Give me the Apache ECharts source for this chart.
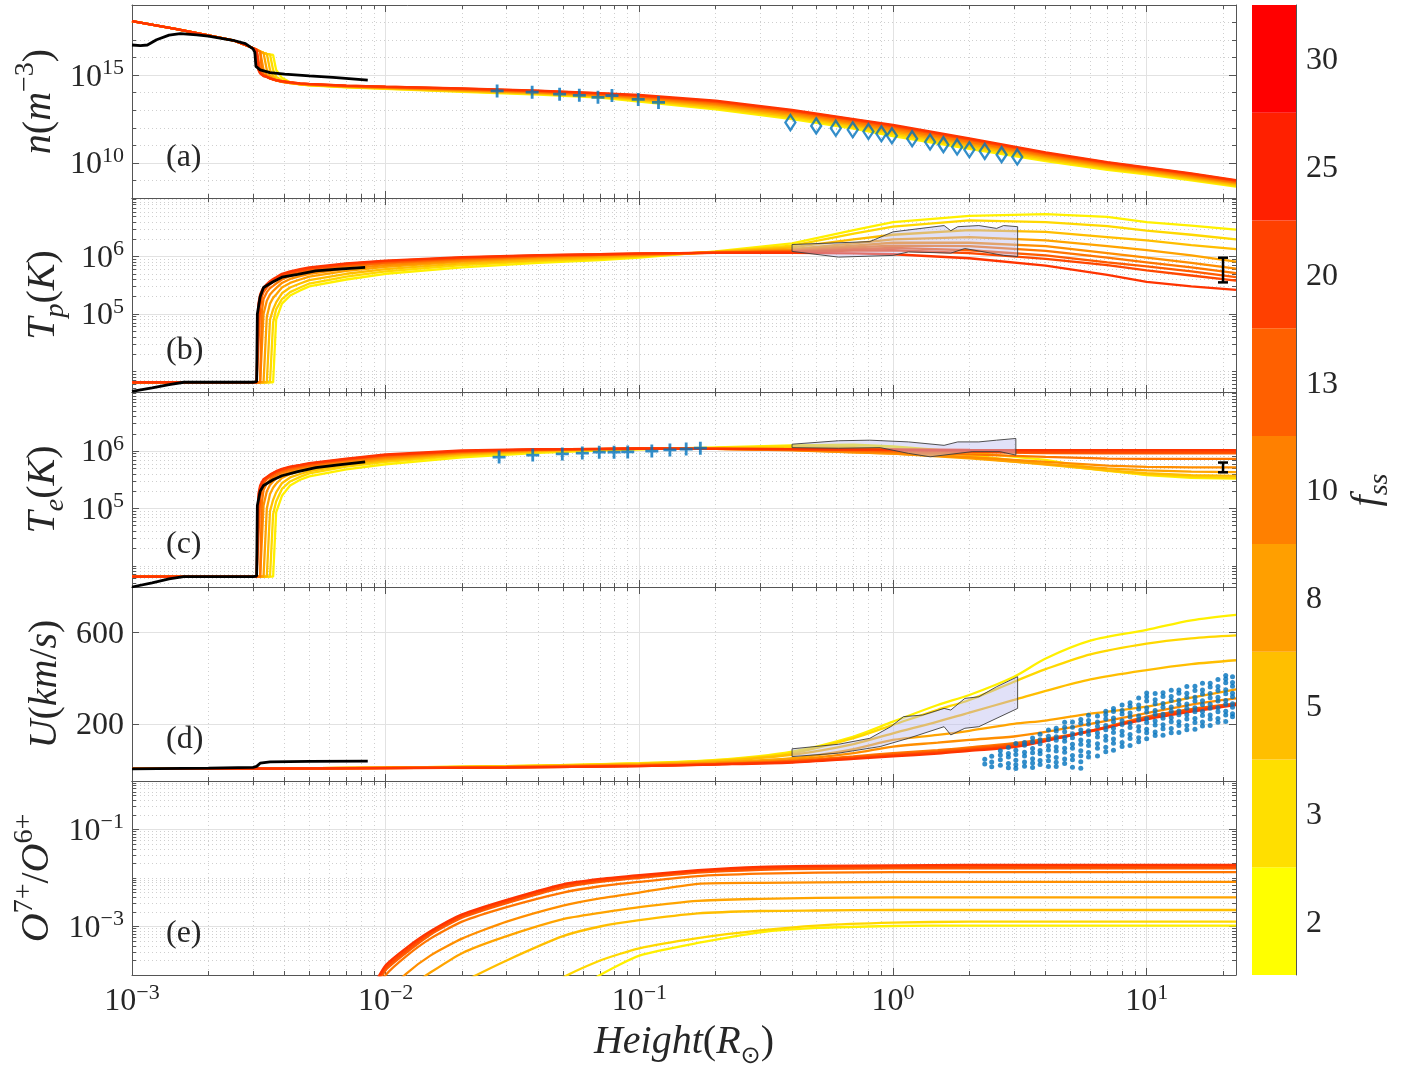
<!DOCTYPE html>
<html><head><meta charset="utf-8">
<script src="https://cdn.jsdelivr.net/npm/echarts@6/dist/echarts.min.js"></script>
<style>html,body{margin:0;padding:0;background:#fff}#c{width:1418px;height:1065px}</style>
</head><body><div id="c"></div>
<script>
// ---------------- DATA ----------------
const F_SS = [2, 3, 5, 8, 10, 13, 20, 25, 30];
const LINE_COLORS = ['#FFF000', '#FFD800', '#FFBE00', '#FFA400', '#FF8E00', '#FF7600', '#FF5C00', '#FF4800', '#FF3400'];
const BAR_COLORS = ['#FFFF00', '#FFDF00', '#FFBF00', '#FF9F00', '#FF8000', '#FF6000', '#FF4000', '#FF2000', '#FF0000'];

// heights (R_sun) for panels a-c
const H = [0.001, 0.0015, 0.002, 0.0025, 0.003, 0.0031, 0.00315, 0.0032, 0.00325, 0.0033, 0.0034, 0.0035, 0.0036, 0.0037, 0.0039, 0.0042, 0.0046, 0.005, 0.007, 0.01, 0.02, 0.04, 0.07, 0.1, 0.2, 0.4, 0.7, 1, 2, 4, 7, 10, 15, 22.5];

// log10 n (m^-3), rows in F_SS order
const LOG_N = [
  [18.08,17.62,17.27,16.99,16.55,16.45,16.40,16.35,16.30,16.27,16.22,16.18,16.15,15.30,14.85,14.60,14.48,14.42,14.30,14.22,14.05,13.90,13.72,13.50,13.05,12.50,11.95,11.52,10.80,10.10,9.60,9.35,9.00,8.65],
  [18.08,17.62,17.27,16.99,16.55,16.45,16.40,16.35,16.30,16.27,16.22,16.18,15.30,14.92,14.70,14.57,14.47,14.43,14.32,14.24,14.08,13.93,13.76,13.56,13.13,12.58,12.03,11.62,10.89,10.18,9.67,9.41,9.06,8.71],
  [18.08,17.62,17.27,16.99,16.55,16.45,16.40,16.35,16.30,16.27,16.22,15.30,14.95,14.78,14.64,14.55,14.48,14.44,14.33,14.26,14.11,13.96,13.80,13.61,13.20,12.66,12.12,11.72,10.98,10.25,9.74,9.47,9.12,8.76],
  [18.08,17.62,17.27,16.99,16.55,16.45,16.40,16.35,16.30,16.27,15.30,14.98,14.82,14.72,14.62,14.55,14.49,14.46,14.35,14.28,14.14,13.99,13.83,13.67,13.28,12.74,12.20,11.81,11.07,10.33,9.80,9.53,9.18,8.83],
  [18.08,17.62,17.27,16.99,16.55,16.45,16.40,16.35,16.30,15.30,15.00,14.86,14.77,14.70,14.62,14.56,14.50,14.47,14.36,14.29,14.17,14.02,13.87,13.71,13.34,12.81,12.27,11.90,11.15,10.39,9.86,9.58,9.23,8.87],
  [18.08,17.62,17.27,16.99,16.55,16.45,16.40,16.35,15.30,15.05,14.93,14.83,14.76,14.70,14.63,14.57,14.51,14.48,14.38,14.31,14.19,14.05,13.90,13.76,13.40,12.88,12.34,11.98,11.22,10.45,9.92,9.63,9.28,8.91],
  [18.08,17.62,17.27,16.99,16.55,16.45,16.40,15.30,15.08,14.98,14.90,14.82,14.76,14.70,14.64,14.58,14.52,14.49,14.39,14.33,14.22,14.09,13.94,13.81,13.47,12.95,12.42,12.07,11.31,10.52,9.98,9.69,9.34,8.97],
  [18.08,17.62,17.27,16.99,16.55,16.45,15.35,15.12,15.02,14.96,14.90,14.82,14.76,14.71,14.65,14.59,14.53,14.49,14.40,14.34,14.23,14.10,13.96,13.84,13.51,12.98,12.46,12.12,11.35,10.56,10.01,9.72,9.37,8.99],
  [18.08,17.62,17.27,16.99,16.55,16.45,15.30,15.10,15.00,14.95,14.90,14.82,14.76,14.72,14.66,14.60,14.53,14.50,14.41,14.35,14.25,14.12,13.98,13.87,13.55,13.02,12.50,12.17,11.40,10.60,10.05,9.75,9.40,9.02]
];

// log10 Tp (K)
const LOG_TP = [
  [3.81,3.81,3.81,3.81,3.81,3.81,3.81,3.81,3.81,3.81,3.81,3.81,3.81,4.90,5.18,5.32,5.41,5.48,5.60,5.70,5.81,5.89,5.94,5.98,6.09,6.23,6.46,6.60,6.71,6.74,6.69,6.60,6.54,6.47],
  [3.81,3.81,3.81,3.81,3.81,3.81,3.81,3.81,3.81,3.81,3.81,3.81,4.85,5.08,5.26,5.38,5.46,5.53,5.65,5.74,5.85,5.92,5.96,6.00,6.08,6.19,6.40,6.52,6.63,6.60,6.53,6.45,6.38,6.30],
  [3.81,3.81,3.81,3.81,3.81,3.81,3.81,3.81,3.81,3.81,3.81,4.90,5.08,5.20,5.36,5.46,5.53,5.59,5.70,5.78,5.88,5.94,5.98,6.01,6.08,6.16,6.30,6.38,6.46,6.43,6.34,6.28,6.20,6.13],
  [3.81,3.81,3.81,3.81,3.81,3.81,3.81,3.81,3.81,3.81,4.95,5.18,5.28,5.34,5.46,5.54,5.60,5.65,5.75,5.82,5.91,5.97,6.00,6.02,6.08,6.13,6.23,6.30,6.34,6.28,6.18,6.11,6.02,5.91],
  [3.81,3.81,3.81,3.81,3.81,3.81,3.81,3.81,3.81,5.00,5.23,5.34,5.40,5.45,5.54,5.61,5.66,5.70,5.79,5.85,5.93,5.99,6.02,6.03,6.07,6.11,6.19,6.24,6.24,6.18,6.06,5.98,5.89,5.79],
  [3.81,3.81,3.81,3.81,3.81,3.81,3.81,3.81,5.04,5.26,5.38,5.45,5.49,5.53,5.60,5.66,5.71,5.74,5.83,5.88,5.95,6.00,6.03,6.04,6.07,6.10,6.16,6.19,6.18,6.10,5.98,5.90,5.81,5.71],
  [3.81,3.81,3.81,3.81,3.81,3.81,3.81,5.11,5.30,5.38,5.46,5.52,5.56,5.59,5.65,5.70,5.74,5.77,5.85,5.90,5.97,6.01,6.03,6.05,6.07,6.09,6.13,6.15,6.11,6.02,5.90,5.83,5.74,5.64],
  [3.81,3.81,3.81,3.81,3.81,3.81,5.08,5.30,5.38,5.43,5.49,5.54,5.59,5.62,5.68,5.72,5.76,5.79,5.87,5.92,5.98,6.02,6.04,6.05,6.065,6.08,6.105,6.11,6.06,5.96,5.85,5.76,5.67,5.58],
  [3.81,3.81,3.81,3.81,3.81,3.81,5.18,5.34,5.41,5.46,5.52,5.57,5.61,5.64,5.70,5.74,5.78,5.81,5.88,5.93,5.99,6.025,6.04,6.055,6.065,6.065,6.055,6.04,5.97,5.84,5.68,5.56,5.48,5.42]
];

// log10 Te (K)
const LOG_TE = [
  [3.81,3.81,3.81,3.81,3.81,3.81,3.81,3.81,3.81,3.81,3.81,3.81,3.81,4.93,5.22,5.40,5.50,5.56,5.68,5.77,5.89,5.97,6.01,6.03,6.065,6.10,6.11,6.08,5.978,5.845,5.663,5.58,5.531,5.519],
  [3.81,3.81,3.81,3.81,3.81,3.81,3.81,3.81,3.81,3.81,3.81,3.81,4.90,5.12,5.34,5.47,5.55,5.61,5.73,5.81,5.92,5.99,6.02,6.035,6.055,6.08,6.07,6.04,5.929,5.778,5.653,5.591,5.556,5.531],
  [3.81,3.81,3.81,3.81,3.81,3.81,3.81,3.81,3.81,3.81,3.81,4.95,5.15,5.28,5.44,5.54,5.60,5.65,5.76,5.84,5.94,6.00,6.03,6.04,6.05,6.041,6.0,5.978,5.892,5.763,5.663,5.613,5.58,5.568],
  [3.81,3.81,3.81,3.81,3.81,3.81,3.81,3.81,3.81,3.81,5.00,5.25,5.36,5.43,5.53,5.60,5.65,5.69,5.79,5.86,5.96,6.01,6.035,6.04,6.04,6.021,5.978,5.954,5.875,5.771,5.699,5.663,5.643,5.633],
  [3.81,3.81,3.81,3.81,3.81,3.81,3.81,3.81,3.81,5.05,5.30,5.41,5.47,5.52,5.59,5.64,5.68,5.72,5.81,5.88,5.97,6.02,6.035,6.04,6.04,6.013,5.978,5.954,5.892,5.813,5.748,5.724,5.716,5.716],
  [3.81,3.81,3.81,3.81,3.81,3.81,3.81,3.81,5.10,5.32,5.44,5.50,5.54,5.57,5.63,5.67,5.71,5.74,5.83,5.90,5.98,6.02,6.035,6.04,6.04,6.02,6.0,5.982,5.944,5.898,5.869,5.863,5.863,5.863],
  [3.81,3.81,3.81,3.81,3.81,3.81,3.81,5.18,5.36,5.44,5.51,5.55,5.58,5.61,5.66,5.70,5.73,5.76,5.85,5.92,5.99,6.03,6.04,6.045,6.04,6.033,6.017,6.009,5.982,5.964,5.959,5.959,5.959,5.959],
  [3.81,3.81,3.81,3.81,3.81,3.81,5.15,5.36,5.44,5.49,5.54,5.58,5.61,5.64,5.68,5.72,5.75,5.78,5.86,5.93,6.00,6.03,6.04,6.045,6.04,6.033,6.025,6.017,6.0,5.987,5.982,5.982,5.982,5.982],
  [3.81,3.81,3.81,3.81,3.81,3.81,5.25,5.40,5.46,5.51,5.55,5.59,5.62,5.65,5.69,5.73,5.76,5.79,5.87,5.94,6.01,6.035,6.04,6.045,6.04,6.035,6.03,6.03,6.02,6.017,6.017,6.017,6.017,6.017]
];

// U (km/s)
const H_U = [0.001, 0.003, 0.01, 0.03, 0.1, 0.2, 0.4, 0.7, 1, 1.5, 2, 3, 4, 6, 10, 15, 22.5];
const U_KMS = [
  [3, 5, 9, 15, 28, 42, 79, 145, 210, 283, 327, 407, 487, 565, 612, 654, 678],
  [3, 5, 9, 15, 27, 40, 72, 138, 196, 262, 305, 385, 440, 505, 552, 575, 588],
  [3, 5, 8, 14, 25, 37, 65, 112, 159, 210, 250, 305, 345, 395, 436, 462, 479],
  [3, 5, 8, 13, 22, 32, 50, 90, 130, 152, 170, 200, 215, 245, 276, 315, 351],
  [3, 5, 8, 12, 20, 28, 43, 72, 101, 118, 130, 145, 165, 200, 247, 285, 312],
  [3, 4, 7, 11, 17, 25, 38, 58, 72, 85, 97, 116, 135, 170, 232, 265, 290],
  [3, 4, 7, 10, 16, 24, 36, 54, 66, 79, 91, 110, 130, 168, 229, 263, 288],
  [3, 4, 6, 10, 15, 23, 33, 50, 62, 74, 86, 104, 127, 167, 225, 260, 286],
  [3, 4, 6, 9, 15, 22, 31, 47, 58, 70, 82, 98, 125, 170, 220, 254, 283]
];

// log10 O7+/O6+
const H_O = [0.009, 0.01, 0.012, 0.015, 0.02, 0.03, 0.05, 0.07, 0.1, 0.17, 0.3, 0.5, 1, 2, 5, 10, 22.5];
const LOG_O76 = [
  [-7, -7, -7, -6.5, -6, -5.3, -4.5, -4.0, -3.6, -3.34, -3.12, -3.03, -2.99, -2.98, -2.98, -2.98, -2.98],
  [-7, -7, -6.5, -6, -5.5, -4.8, -4.05, -3.7, -3.45, -3.24, -3.08, -2.98, -2.92, -2.90, -2.90, -2.90, -2.90],
  [-5.5, -5.2, -4.9, -4.5, -4.15, -3.7, -3.2, -3.0, -2.87, -2.73, -2.68, -2.67, -2.66, -2.66, -2.66, -2.66, -2.66],
  [-5, -4.6, -4.3, -3.95, -3.55, -3.2, -2.85, -2.72, -2.6, -2.47, -2.43, -2.41, -2.40, -2.40, -2.40, -2.40, -2.40],
  [-4.8, -4.4, -3.98, -3.6, -3.25, -2.9, -2.57, -2.42, -2.3, -2.12, -2.1, -2.09, -2.08, -2.08, -2.08, -2.08, -2.08],
  [-4.4, -4.0, -3.62, -3.25, -2.9, -2.6, -2.3, -2.17, -2.08, -1.96, -1.91, -1.89, -1.88, -1.88, -1.88, -1.88, -1.88],
  [-4.3, -3.9, -3.55, -3.17, -2.82, -2.52, -2.2, -2.08, -2.0, -1.89, -1.83, -1.81, -1.80, -1.80, -1.80, -1.80, -1.80],
  [-4.25, -3.85, -3.5, -3.13, -2.78, -2.48, -2.16, -2.05, -1.97, -1.86, -1.80, -1.78, -1.77, -1.77, -1.77, -1.77, -1.77],
  [-4.2, -3.8, -3.45, -3.1, -2.75, -2.45, -2.13, -2.02, -1.94, -1.84, -1.77, -1.75, -1.74, -1.73, -1.73, -1.73, -1.73]
];

// observations (black curves)
const OBS_H_N = [0.001, 0.00108, 0.00115, 0.00125, 0.0014, 0.00155, 0.0018, 0.002, 0.0025, 0.0028, 0.003, 0.00305, 0.00308, 0.0032, 0.0035, 0.004, 0.005, 0.0062, 0.0085];
const OBS_LOG_N = [16.72, 16.68, 16.72, 17.02, 17.28, 17.37, 17.30, 17.22, 16.99, 16.80, 16.50, 16.30, 15.50, 15.30, 15.15, 15.06, 14.96, 14.87, 14.72];
const OBS_H_T = [0.001, 0.0012, 0.0014, 0.0016, 0.002, 0.0025, 0.003, 0.0031, 0.00312, 0.0032, 0.0033, 0.0036, 0.0039, 0.0045, 0.0053, 0.0065, 0.0083];
const OBS_LOG_TP = [3.65, 3.71, 3.77, 3.81, 3.81, 3.81, 3.81, 3.82, 5.00, 5.30, 5.46, 5.56, 5.64, 5.69, 5.75, 5.78, 5.81];
const OBS_LOG_TE = [3.63, 3.70, 3.77, 3.81, 3.81, 3.81, 3.81, 3.82, 5.05, 5.30, 5.40, 5.50, 5.57, 5.64, 5.71, 5.76, 5.81];
const OBS_H_U = [0.001, 0.002, 0.003, 0.0031, 0.0032, 0.0035, 0.005, 0.0085];
const OBS_U = [3, 6, 10, 14, 28, 34, 36, 37];

// markers
const CROSS_H_N = [0.0275, 0.0378, 0.0485, 0.058, 0.0687, 0.078, 0.099, 0.119];
const CROSS_LOG_N = [14.10, 14.03, 13.92, 13.85, 13.74, 13.84, 13.62, 13.45];
const DIAM_H = [0.394, 0.498, 0.595, 0.694, 0.80, 0.90, 0.99, 1.19, 1.40, 1.58, 1.79, 2.0, 2.3, 2.68, 3.09];
const DIAM_LOG_N = [12.30, 12.11, 11.98, 11.89, 11.79, 11.66, 11.55, 11.38, 11.19, 11.04, 10.91, 10.75, 10.66, 10.47, 10.34];
const CROSS_H_TE = [0.028, 0.038, 0.0497, 0.0596, 0.0695, 0.0795, 0.090, 0.112, 0.132, 0.153, 0.174];
const CROSS_LOG_TE = [5.895, 5.93, 5.95, 5.965, 5.98, 5.98, 5.985, 6.0, 6.02, 6.035, 6.05];

// error bars: [height, low, high]
const ERR_TP = [20, 5.55, 5.98];
const ERR_TE = [20, 5.63, 5.80];

// shaded observation ranges [height, value]
const POLY_TP = [[0.40,6.21],[0.81,6.26],[1.0,6.43],[1.59,6.54],[1.69,6.45],[1.80,6.52],[2.18,6.54],[2.56,6.49],[2.73,6.54],[3.1,6.52],[3.1,6.0],[2.73,6.02],[1.92,6.14],[1.69,6.06],[1.15,6.08],[1.0,6.02],[0.61,5.99],[0.40,6.09]];
const POLY_TE = [[0.4,6.12],[0.61,6.18],[0.81,6.19],[1.15,6.16],[1.59,6.10],[1.8,6.16],[2.18,6.16],[2.56,6.19],[3.05,6.22],[3.05,5.93],[2.64,5.99],[2.05,5.99],[1.4,5.90],[1.15,5.96],[0.89,6.06],[0.61,6.05],[0.4,6.06]];
const POLY_U = [[0.4,91],[0.61,111],[0.81,137],[0.98,188],[1.1,232],[1.31,239],[1.59,268],[1.69,261],[1.92,312],[2.18,319],[2.56,363],[3.1,407],[3.1,268],[2.18,188],[1.92,181],[1.69,152],[1.59,188],[1.15,137],[0.89,101],[0.61,72],[0.4,57]];

// solar wind speed samples (columns of heights, speeds per column)
const WIND_H = [2.3, 2.45, 2.65, 2.85, 3.05, 3.3, 3.55, 3.8, 4.1, 4.4, 4.75, 5.1, 5.5, 5.9, 6.4, 6.9, 7.4, 8.0, 8.6, 9.3, 10.0, 10.8, 11.6, 12.5, 13.4, 14.4, 15.5, 16.6, 17.8, 19.1, 20.5, 21.8];
const WIND_U = [
  [24, 45], [12, 33, 58], [19, 43, 64, 83], [8, 27, 55, 71, 97], [5, 21, 41, 66, 85, 114],
  [15, 33, 60, 76, 107, 119], [9, 29, 47, 74, 92, 121, 138], [22, 40, 69, 84, 113, 131, 155],
  [14, 39, 58, 86, 104, 131, 146, 173], [13, 32, 53, 81, 99, 128, 144, 169, 181],
  [27, 46, 76, 93, 124, 139, 166, 185, 207], [10, 43, 62, 93, 111, 140, 157, 185, 208],
  [6, 34, 61, 82, 111, 130, 158, 174, 203, 219], [55, 75, 105, 124, 154, 170, 199, 215, 238],
  [60, 94, 113, 143, 160, 190, 208, 235], [78, 98, 129, 146, 175, 193, 222, 240, 256],
  [85, 115, 134, 163, 181, 210, 226, 255, 268], [101, 119, 150, 168, 198, 214, 244, 259, 283],
  [105, 136, 154, 184, 202, 231, 248, 277, 293], [122, 140, 169, 188, 217, 235, 265, 283, 314],
  [135, 161, 177, 206, 223, 252, 270, 300, 319, 336], [149, 165, 195, 213, 242, 259, 288, 306, 333],
  [150, 179, 196, 225, 243, 273, 290, 320, 337], [161, 180, 210, 227, 256, 274, 303, 320, 348],
  [163, 193, 210, 240, 257, 286, 304, 334, 349], [175, 193, 222, 240, 269, 287, 317, 334, 364],
  [177, 206, 224, 253, 271, 300, 317, 347, 365], [191, 208, 237, 255, 284, 302, 331, 349, 378],
  [193, 222, 239, 269, 286, 315, 333, 362, 378], [207, 224, 253, 271, 300, 317, 347, 364, 395],
  [211, 239, 256, 286, 303, 332, 350, 380, 397, 412], [231, 245, 273, 289, 319, 335, 365, 382, 407]
];

// axis ranges / ticks (exponents for log panels)
const X_RANGE = [0.001, 22.5];
const X_TICK_EXP = [-3, -2, -1, 0, 1];
const Y_RANGE = [[8, 19], [3.64, 7.02], [3.63, 7.03], [-50, 800], [-4, 0]];
const Y_TICKS = [[10, 15], [5, 6], [5, 6], [200, 600], [-3, -1]];
const PANEL_LABELS = ['(a)', '(b)', '(c)', '(d)', '(e)'];

// ---------------- CHART ----------------
const L10 = Math.log10;
const FONT = "'Liberation Serif', 'DejaVu Serif', serif";
const TXT = '#262626';
const AX = '#555555';
const GRID_TOP = [5, 198, 392, 587, 781];
const GRID_H = [193, 194, 195, 194, 194];
const X_MIN = L10(X_RANGE[0]), X_MAX = L10(X_RANGE[1]);
const NX = 4, NY = 4; // axes per panel

function minorLog(lo, hi, majors) {
  const out = [];
  for (let n = Math.floor(lo); n <= Math.ceil(hi); n++) {
    for (let k = 1; k <= 9; k++) {
      const v = n + L10(k);
      if (v > lo + 1e-6 && v < hi - 1e-6 && !majors.some(m => Math.abs(m - v) < 1e-6)) out.push(v);
    }
  }
  return out;
}
const X_MINOR = minorLog(X_MIN, X_MAX, X_TICK_EXP);
const Y_MINOR = [
  [8, 9, 11, 12, 13, 14, 16, 17, 18],
  minorLog(Y_RANGE[1][0], Y_RANGE[1][1], Y_TICKS[1]),
  minorLog(Y_RANGE[2][0], Y_RANGE[2][1], Y_TICKS[2]),
  [],
  minorLog(Y_RANGE[4][0], Y_RANGE[4][1], Y_TICKS[4])
];

const RICH_TICK = {
  b: { fontFamily: FONT, fontSize: 32, lineHeight: 36, verticalAlign: 'bottom', color: TXT },
  s: { fontFamily: FONT, fontSize: 22, lineHeight: 18, verticalAlign: 'top', color: TXT }
};
const RICH_NAME = {
  i: { fontFamily: FONT, fontStyle: 'italic', fontSize: 40, lineHeight: 54, color: TXT },
  r: { fontFamily: FONT, fontSize: 40, lineHeight: 54, color: TXT },
  sup: { fontFamily: FONT, fontSize: 28, lineHeight: 26, verticalAlign: 'top', color: TXT },
  sub: { fontFamily: FONT, fontStyle: 'italic', fontSize: 28, lineHeight: 32, verticalAlign: 'bottom', color: TXT },
  odot: { fontFamily: "'DejaVu Sans', sans-serif", fontSize: 24, lineHeight: 30, verticalAlign: 'bottom', color: TXT }
};
const expLabel = v => { const n = Math.round(v); return '{b|10}{s|' + (n < 0 ? '\u2212' + (-n) : n) + '}'; };
const plainLabel = v => '{b|' + v + '}';

const Y_NAMES = [
  '{i|n}{r|(}{i|m}{sup|\u22123}{r|)}',
  '{i|T}{sub|p}{r|(}{i|K}{r|)}',
  '{i|T}{sub|e}{r|(}{i|K}{r|)}',
  '{i|U}{r|(}{i|km}{r|/}{i|s}{r|)}',
  '{i|O}{sup|7+}{r|/}{i|O}{sup|6+}'
];
const Y_NAME_GAP = [62, 54, 54, 52, 54];

const tick = (len, vals) => ({ show: true, inside: true, length: len, customValues: vals, lineStyle: { color: AX } });
const boxLine = { show: true, onZero: false, lineStyle: { color: AX, width: 1 } };

const grids = [], xAxes = [], yAxes = [], series = [];
for (let p = 0; p < 5; p++) {
  grids.push({ left: 132, right: 182, top: GRID_TOP[p], height: GRID_H[p], containLabel: false, outerBoundsMode: 'none' });
  const xb = { type: 'value', gridIndex: p, min: X_MIN, max: X_MAX, silent: true,
    axisLine: { show: false, onZero: false }, axisLabel: { show: false }, splitLine: { show: false }, axisTick: { show: false } };
  xAxes.push(Object.assign({}, xb, { position: 'bottom', axisLine: boxLine, axisTick: tick(4, X_MINOR),
    splitLine: { show: true, lineStyle: { color: '#cfcfcf', type: [1, 3], width: 1 } } }));
  xAxes.push(Object.assign({}, xb, { position: 'top', axisLine: boxLine, axisTick: tick(7, X_TICK_EXP),
    splitLine: { show: true, lineStyle: { color: '#e2e2e2', width: 1 } } }));
  xAxes.push(Object.assign({}, xb, { position: 'bottom', axisTick: tick(7, X_TICK_EXP),
    axisLabel: p === 4 ? { show: true, customValues: X_TICK_EXP, formatter: expLabel, margin: 7, rich: RICH_TICK } : { show: false },
    name: p === 4 ? '{i|Height}{r|(}{i|R}{odot|\u2299}{r|)}' : '', nameLocation: 'middle', nameGap: 40,
    nameTextStyle: { rich: RICH_NAME } }));
  xAxes.push(Object.assign({}, xb, { position: 'top', axisTick: tick(4, X_MINOR) }));

  const isLog = p !== 3;
  const yb = { type: 'value', gridIndex: p, min: Y_RANGE[p][0], max: Y_RANGE[p][1], silent: true,
    axisLine: { show: false, onZero: false }, axisLabel: { show: false }, splitLine: { show: false }, axisTick: { show: false } };
  yAxes.push(Object.assign({}, yb, { position: 'left', axisLine: boxLine, axisTick: tick(7, Y_TICKS[p]),
    axisLabel: { show: true, customValues: Y_TICKS[p], formatter: isLog ? expLabel : plainLabel, margin: 8, rich: RICH_TICK },
    splitLine: { show: true, lineStyle: { color: '#e2e2e2', width: 1 } },
    name: Y_NAMES[p], nameLocation: 'middle', nameRotate: 90, nameGap: Y_NAME_GAP[p], nameTextStyle: { rich: RICH_NAME } }));
  yAxes.push(Object.assign({}, yb, { position: 'right', axisLine: boxLine, axisTick: tick(7, Y_TICKS[p]) }));
  if (Y_MINOR[p].length) {
    yAxes.push(Object.assign({}, yb, { position: 'right', axisTick: tick(4, Y_MINOR[p]),
      splitLine: { show: true, lineStyle: { color: '#cfcfcf', type: [1, 3], width: 1 } } }));
    yAxes.push(Object.assign({}, yb, { position: 'left', axisTick: tick(4, Y_MINOR[p]) }));
  } else {
    yAxes.push(Object.assign({}, yb, { position: 'right' }));
    yAxes.push(Object.assign({}, yb, { position: 'left' }));
  }
}

const ax = p => ({ xAxisIndex: NX * p, yAxisIndex: NY * p });
const toPairs = (xs, ys) => xs.map((x, i) => [L10(x), ys[i]]);

const MODEL = [
  { p: 0, h: H, rows: LOG_N },
  { p: 1, h: H, rows: LOG_TP },
  { p: 2, h: H, rows: LOG_TE },
  { p: 3, h: H_U, rows: U_KMS, smooth: 0.3 },
  { p: 4, h: H_O, rows: LOG_O76, smooth: 0.2 }
];
MODEL.forEach(m => {
  m.rows.forEach((row, i) => {
    series.push(Object.assign({ type: 'line', data: toPairs(m.h, row), showSymbol: false, symbol: 'none',
      smooth: m.smooth || false, clip: true, silent: true, z: 2,
      lineStyle: { color: LINE_COLORS[i], width: 2.3 }, itemStyle: { color: LINE_COLORS[i] } }, ax(m.p)));
  });
});

[[0, OBS_H_N, OBS_LOG_N], [1, OBS_H_T, OBS_LOG_TP], [2, OBS_H_T, OBS_LOG_TE], [3, OBS_H_U, OBS_U]].forEach(([p, hs, vs]) => {
  series.push(Object.assign({ type: 'line', data: toPairs(hs, vs), showSymbol: false, symbol: 'none', clip: true, silent: true, z: 3,
    lineStyle: { color: '#000', width: 2.8 }, itemStyle: { color: '#000' } }, ax(p)));
});

function polySeries(p, poly) {
  return Object.assign({ type: 'custom', silent: true, z: 4, data: [[L10(poly[0][0]), poly[0][1]]],
    renderItem: (params, api) => ({ type: 'polygon',
      shape: { points: poly.map(q => api.coord([L10(q[0]), q[1]])) },
      style: { fill: 'rgba(188,188,240,0.45)', stroke: '#3c3c3c', lineWidth: 0.9 } }) }, ax(p));
}
series.push(polySeries(1, POLY_TP), polySeries(2, POLY_TE), polySeries(3, POLY_U));

function errSeries(p, e) {
  return Object.assign({ type: 'custom', silent: true, z: 5, data: [[L10(e[0]), e[1], e[2]]],
    encode: { x: 0, y: [1, 2] },
    renderItem: (params, api) => {
      const a = api.coord([api.value(0), api.value(1)]), b = api.coord([api.value(0), api.value(2)]);
      const st = { stroke: '#000', lineWidth: 2.5 };
      return { type: 'group', children: [
        { type: 'line', shape: { x1: a[0], y1: a[1], x2: b[0], y2: b[1] }, style: st },
        { type: 'line', shape: { x1: a[0] - 5, y1: a[1], x2: a[0] + 5, y2: a[1] }, style: st },
        { type: 'line', shape: { x1: b[0] - 5, y1: b[1], x2: b[0] + 5, y2: b[1] }, style: st }
      ] };
    } }, ax(p));
}
series.push(errSeries(1, ERR_TP), errSeries(2, ERR_TE));

const PLUS = 'path://M0,5L10,5M5,0L5,10';
const BLUE = '#0072BD';
series.push(Object.assign({ type: 'scatter', data: toPairs(CROSS_H_N, CROSS_LOG_N), symbol: PLUS, symbolSize: 13, silent: true, z: 6,
  itemStyle: { color: 'rgba(0,0,0,0)', borderColor: BLUE, borderWidth: 2.8 } }, ax(0)));
series.push(Object.assign({ type: 'scatter', data: toPairs(DIAM_H, DIAM_LOG_N), symbol: 'diamond', symbolSize: [10, 15], silent: true, z: 6,
  itemStyle: { color: 'rgba(0,0,0,0)', borderColor: BLUE, borderWidth: 2.4 } }, ax(0)));
series.push(Object.assign({ type: 'scatter', data: toPairs(CROSS_H_TE, CROSS_LOG_TE), symbol: PLUS, symbolSize: 13, silent: true, z: 6,
  itemStyle: { color: 'rgba(0,0,0,0)', borderColor: BLUE, borderWidth: 2.8 } }, ax(2)));
const windPts = [];
WIND_H.forEach((h, i) => WIND_U[i].forEach(u => windPts.push([L10(h), u])));
series.push(Object.assign({ type: 'scatter', data: windPts, symbol: 'circle', symbolSize: 5, silent: true, z: 6, clip: true,
  itemStyle: { color: BLUE } }, ax(3)));

// colorbar
grids.push({ left: 1252, width: 44, top: 5, height: 970, containLabel: false, outerBoundsMode: 'none' });
xAxes.push({ type: 'value', gridIndex: 5, min: 0, max: 1, show: false });
yAxes.push({ type: 'category', gridIndex: 5, position: 'right', data: F_SS.map(String), silent: true,
  axisLine: { show: true, onZero: false, lineStyle: { color: AX, width: 1 } },
  axisTick: { show: true, inside: true, alignWithLabel: true, length: 6, lineStyle: { color: AX } },
  axisLabel: { show: true, formatter: plainLabel, margin: 10, rich: RICH_TICK },
  splitLine: { show: false },
  name: '{i|f}{sub|ss}', nameLocation: 'middle', nameRotate: 90, nameGap: 44, nameTextStyle: { rich: RICH_NAME } });
series.push({ type: 'bar', xAxisIndex: 5 * NX, yAxisIndex: 5 * NY, barWidth: '100%', barCategoryGap: 0, silent: true,
  data: F_SS.map((f, i) => ({ value: 1, itemStyle: { color: BAR_COLORS[i] } })) });

const chart = echarts.init(document.getElementById('c'), null, { renderer: 'canvas' });
chart.setOption({
  animation: false,
  backgroundColor: '#fff',
  grid: grids, xAxis: xAxes, yAxis: yAxes, series: series,
  graphic: PANEL_LABELS.map((t, i) => ({ type: 'text', left: 166, top: GRID_TOP[i] + 137, z: 20,
    style: { text: t, fontFamily: FONT, fontSize: 32, fill: TXT } }))
});
</script></body></html>
